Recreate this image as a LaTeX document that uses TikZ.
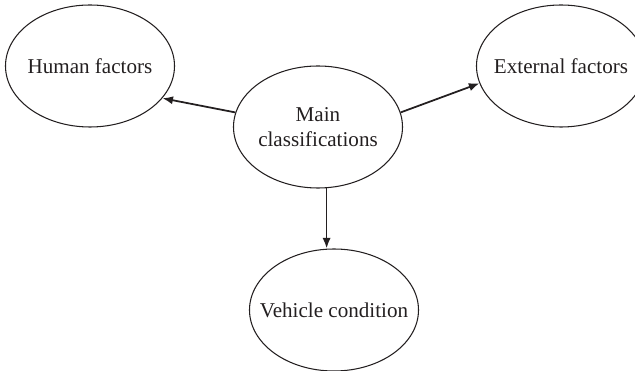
\documentclass[tikz,border=0pt]{standalone}
\usepackage{fontspec}
\setmainfont{Liberation Serif}
\usetikzlibrary{shapes.geometric,arrows.meta}
\definecolor{ink}{HTML}{231F20}
% zero-width line, so the text does not widen its ellipse
\newcommand\nowidth[1]{\makebox[0pt]{#1}}
\begin{document}
\begin{tikzpicture}[x=0.03cm,y=-0.03cm,color=ink,
    factor/.style={draw,ellipse,minimum width=5.07cm,minimum height=3.66cm,
      inner sep=0pt,line width=0.9pt,align=center,
      font=\fontsize{18}{21.5}\selectfont}]
  \useasboundingbox (0,0) rectangle (635,371);
  \draw
    (318,127) node[factor] (main){\nowidth{Main}\\\nowidth{classifications}}
    (90,66) node[factor] (human){\nowidth{Human factors}}
    (561,66) node[factor] (external){\nowidth{External factors}}
    (334,310) node[factor] (vehicle){\nowidth{Vehicle condition}};
  \begin{scope}[-{Latex[length=9pt,width=7pt]},line width=1.5pt]
    \draw (main.170) to (human.-24);
    \draw (main.10) to (external.-168);
    \draw (main.-82) to (main.-82 |- vehicle.north);
  \end{scope}
\end{tikzpicture}
\end{document}
